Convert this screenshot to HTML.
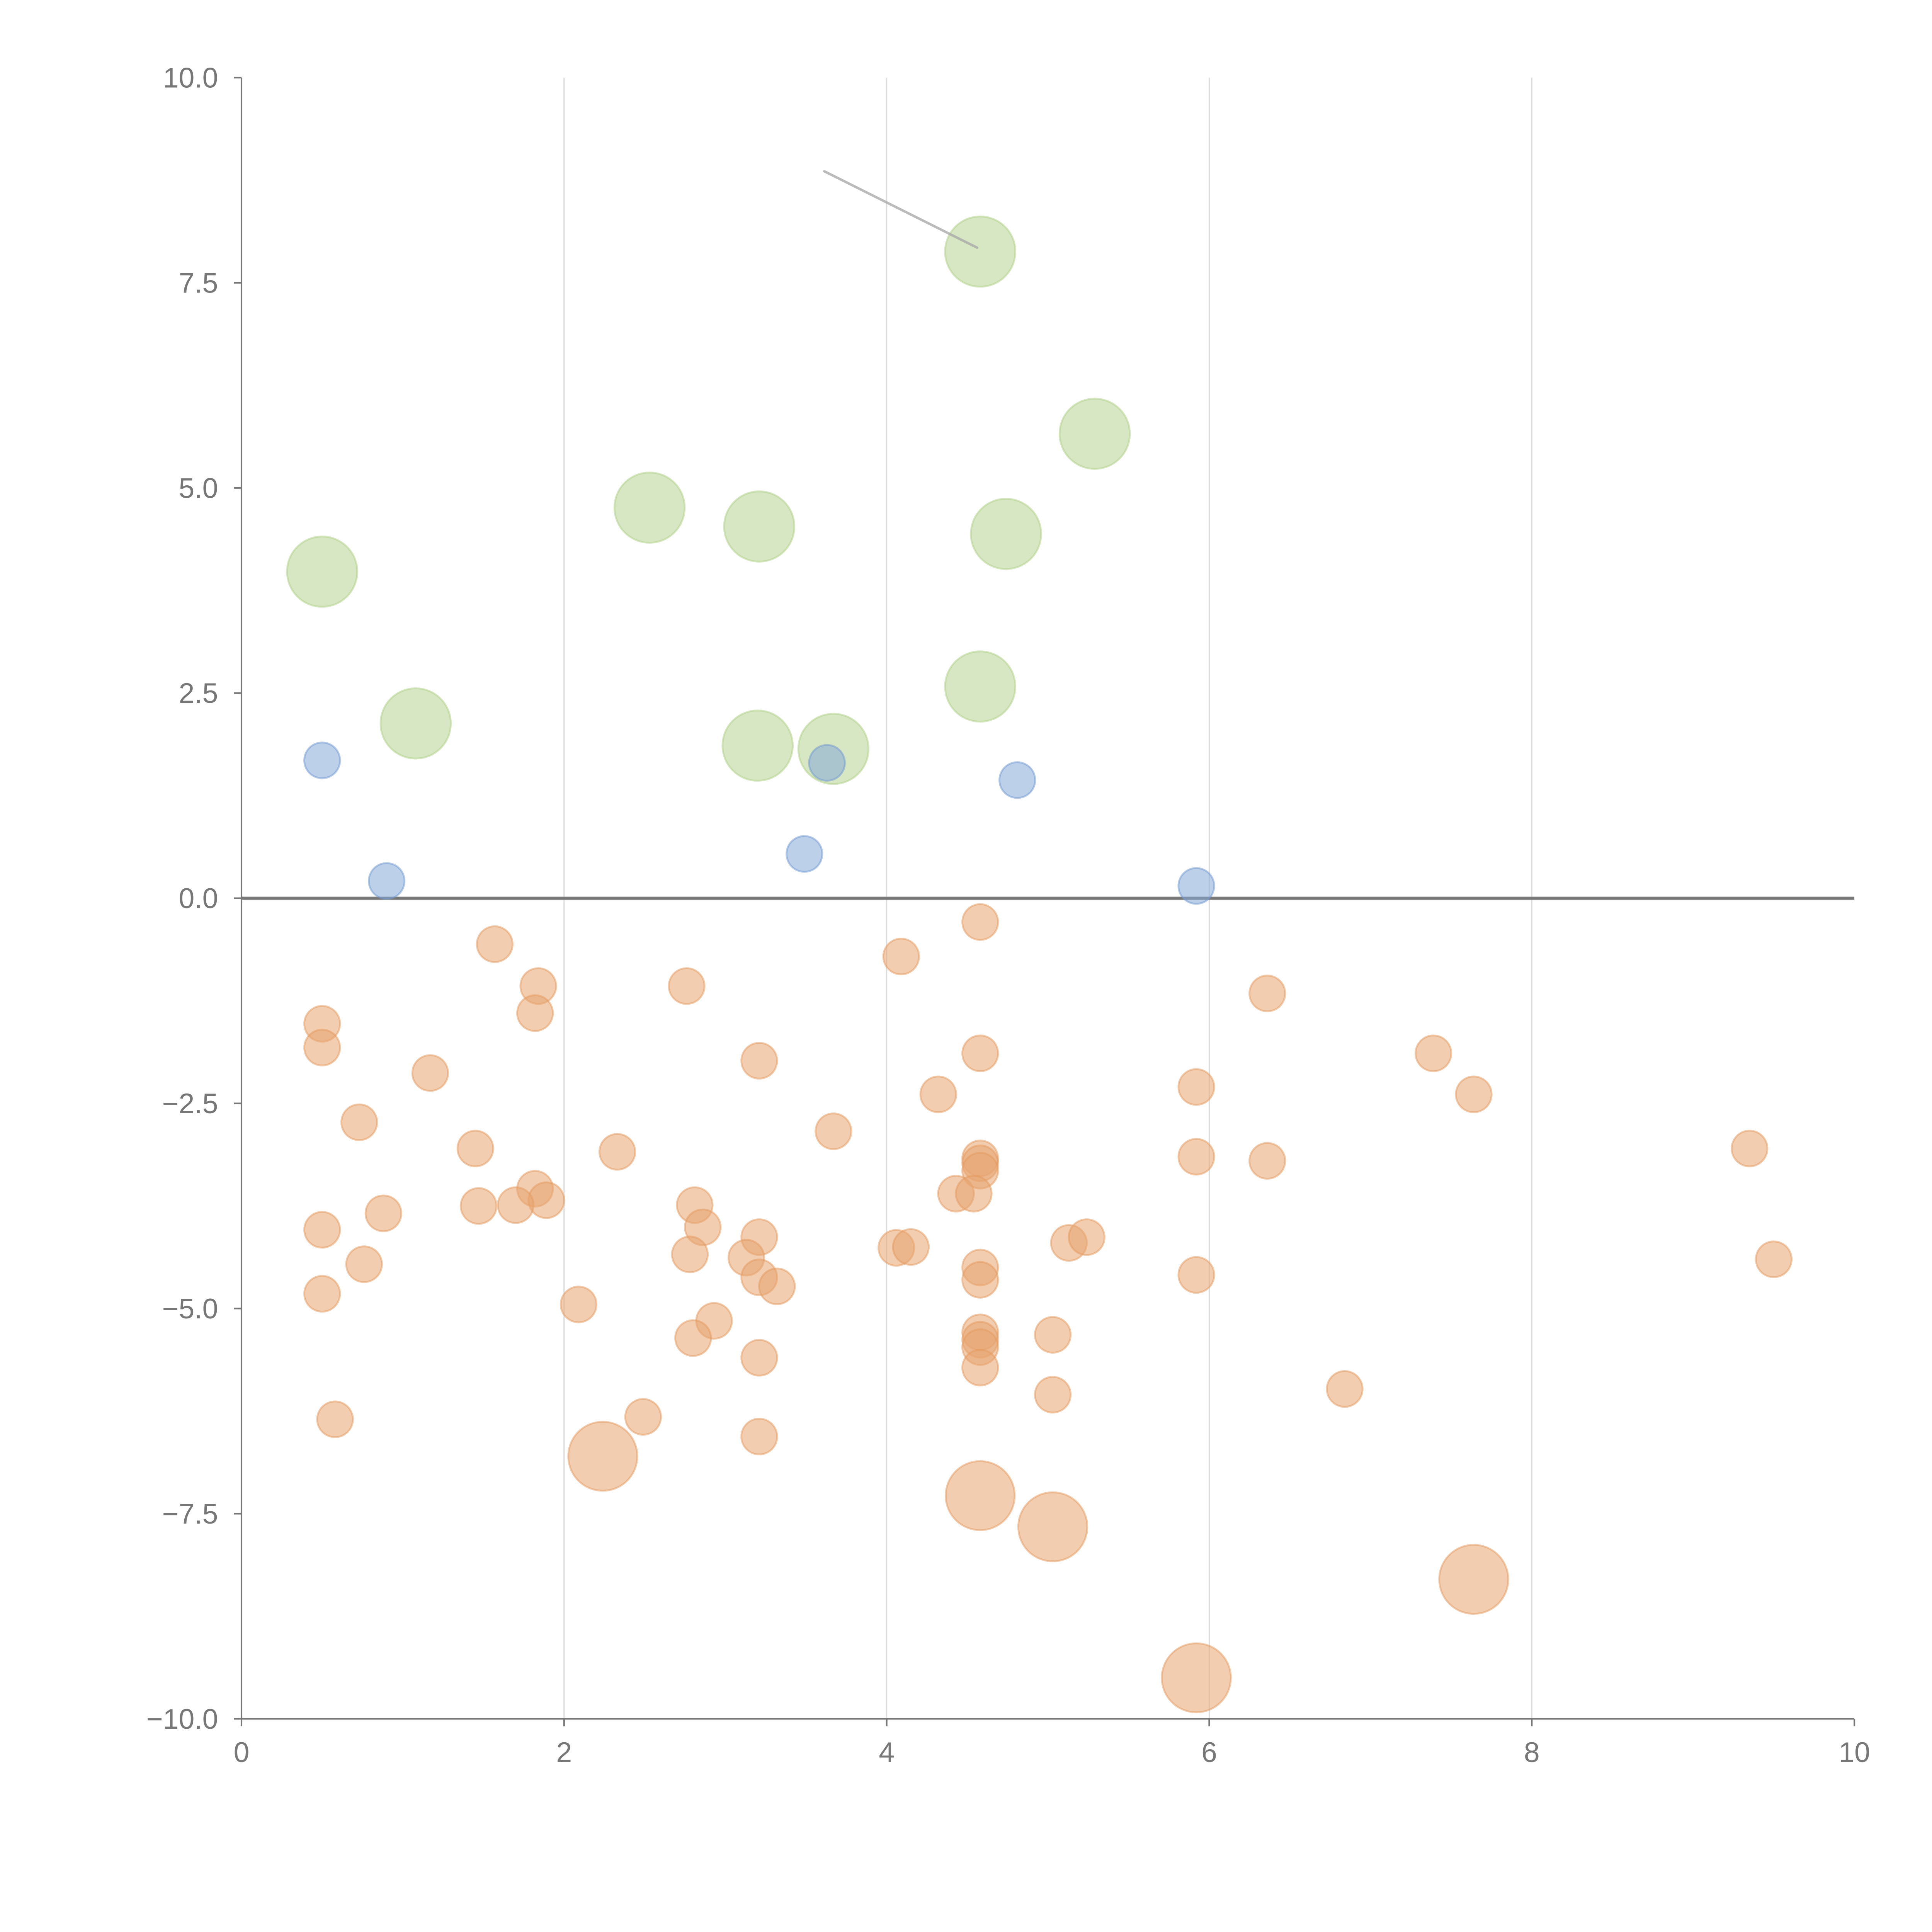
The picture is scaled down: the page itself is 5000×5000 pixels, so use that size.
<!DOCTYPE html>
<html><head><meta charset="utf-8"><style>
html,body{margin:0;padding:0;background:#fff;}
svg{display:block;}
text{font-family:"Liberation Sans",Arial,sans-serif;fill:#777;}
</style></head>
<body>
<svg id="chart" width="5000" height="5000" viewBox="0 0 1568 1568" xmlns="http://www.w3.org/2000/svg">
<g id="grid"></g>
<g id="axes"></g>
<g id="marks"></g>
</svg>
<script>
const xTicks = [0, 2, 4, 6, 8, 10];
const yTicks = [10, 7.5, 5, 2.5, 0, -2.5, -5, -7.5, -10];
const yTickLabels = ["10.0", "7.5", "5.0", "2.5", "0.0", "\u22122.5", "\u22125.0", "\u22127.5", "\u221210.0"];
const greenX = [0.50, 1.08, 2.53, 3.21, 3.20, 3.67, 4.58, 4.58, 4.74, 5.29];
const greenY = [3.98, 2.13, 4.76, 4.53, 1.86, 1.82, 7.88, 2.58, 4.44, 5.66];
const blueX = [0.50, 0.90, 3.49, 3.63, 4.81, 5.92];
const blueY = [1.68, 0.21, 0.54, 1.65, 1.44, 0.15];
const orangeBigX = [2.24, 4.58, 5.03, 7.64, 5.92];
const orangeBigY = [-6.80, -7.28, -7.66, -8.30, -9.50];
const orangeX = [1.57,1.84,1.82,0.50,0.50,1.17,0.73,1.45,2.33,1.82,1.89,1.70,1.47,0.88,0.50,0.76,0.50,2.09,0.58,2.76,3.21,3.67,2.81,2.86,2.78,3.21,3.13,3.21,3.32,2.93,2.80,3.21,3.21,2.49,4.09,4.58,4.58,4.32,4.58,4.58,4.58,4.43,4.54,4.06,4.15,4.58,4.58,4.58,4.58,4.58,4.58,5.03,5.03,5.13,5.24,5.92,5.92,5.92,6.36,6.36,7.39,7.64,6.84,9.35,9.50];
const orangeY = [-0.56,-1.07,-1.40,-1.53,-1.82,-2.13,-2.73,-3.05,-3.09,-3.54,-3.68,-3.74,-3.75,-3.84,-4.04,-4.46,-4.82,-4.95,-6.35,-1.07,-1.98,-2.84,-3.74,-4.01,-4.34,-4.13,-4.38,-4.62,-4.73,-5.15,-5.36,-5.60,-6.56,-6.32,-0.71,-0.29,-1.89,-2.39,-3.17,-3.23,-3.32,-3.60,-3.60,-4.26,-4.25,-4.50,-4.65,-5.29,-5.38,-5.47,-5.72,-5.32,-6.05,-4.20,-4.13,-2.30,-3.15,-4.59,-1.16,-3.20,-1.89,-2.39,-5.98,-3.05,-4.40];

const NS = "http://www.w3.org/2000/svg";
const X0 = 196, X1 = 1505, Y0 = 1395, Y1 = 63;
function sx(v){ return X0 + (v - 0) / 10 * (X1 - X0); }
function sy(v){ return Y0 - (v + 10) / 20 * (Y0 - Y1); }
function mk(tag, attrs, parent){ const e = document.createElementNS(NS, tag); for (const k in attrs) e.setAttribute(k, attrs[k]); parent.appendChild(e); return e; }

const grid = document.getElementById('grid');
const axes = document.getElementById('axes');
const marks = document.getElementById('marks');

xTicks.forEach(function(t){
  if (t > 0 && t < 10) {
    const g = mk('line', {x1: sx(t), x2: sx(t), y1: Y1, y2: Y0, stroke: '#ddd', 'stroke-width': 1}, grid);
    
    
  }
  const tk = mk('line', {x1: sx(t), x2: sx(t), y1: Y0, y2: Y0 + 6, stroke: '#777', 'stroke-width': 1.3}, axes);
  
  
  const tx = mk('text', {x: sx(t), y: Y0 + 35, 'font-size': 23, 'text-anchor': 'middle'}, axes);
  tx.textContent = String(t);
  
  
});
yTicks.forEach(function(t, i){
  const tk = mk('line', {x1: X0 - 6, x2: X0, y1: sy(t), y2: sy(t), stroke: '#777', 'stroke-width': 1.3}, axes);
  
  
  const tx = mk('text', {x: X0 - 19, y: sy(t) + 8, 'font-size': 23, 'text-anchor': 'end'}, axes);
  tx.textContent = yTickLabels[i];
  
  
});
const ya = mk('line', {x1: X0, x2: X0, y1: Y1, y2: Y0, stroke: '#777', 'stroke-width': 1.3}, axes);


const xa = mk('line', {x1: X0, x2: X1, y1: Y0, y2: Y0, stroke: '#777', 'stroke-width': 1.3}, axes);


const zl = mk('line', {x1: X0, x2: X1, y1: sy(0), y2: sy(0), stroke: '#777', 'stroke-width': 2.5}, axes);



function drawSeries(xs, ys, r, fill, stroke, name){
  xs.forEach(function(x, i){
    const c = mk('circle', {cx: sx(x), cy: sy(ys[i]), r: r, fill: fill, 'fill-opacity': 0.55, stroke: stroke, 'stroke-width': 1.5, 'stroke-opacity': 0.5}, marks);
    
    
  });
}
drawSeries(orangeX, orangeY, 14.5, '#e8a470', '#e39a5f', 'orange-bubble');
drawSeries(orangeBigX, orangeBigY, 28, '#e8a470', '#e39a5f', 'orange-large-bubble');
drawSeries(greenX, greenY, 28.5, '#b7d292', '#b0cf88', 'green-bubble');
drawSeries(blueX, blueY, 14.5, '#87a9d8', '#6f97d0', 'blue-bubble');

const ann = mk('line', {x1: 669, y1: 139, x2: 793, y2: 201, stroke: '#aaa', 'stroke-width': 2, 'stroke-linecap': 'round', 'stroke-opacity': 0.8}, marks);


</script>
</body></html>
